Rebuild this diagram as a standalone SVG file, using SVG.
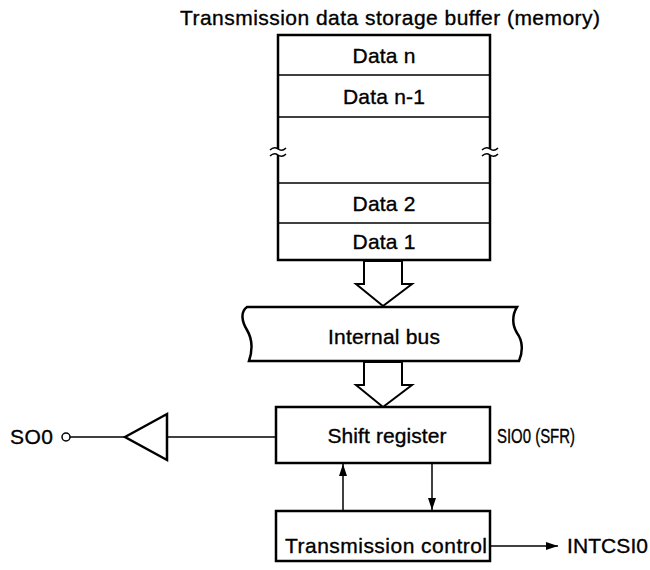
<svg xmlns="http://www.w3.org/2000/svg" width="650" height="570" viewBox="0 0 650 570">
  <style>
    text { font-family: "Liberation Sans", Arial, sans-serif; font-size: 21px; fill: #000; stroke: #000; stroke-width: 0.35; }
    .c { text-anchor: middle; }
    .box { fill: #fff; stroke: #000; stroke-width: 2.5; }
    .row { stroke: #000; stroke-width: 1.5; fill: none; }
    .wire { stroke: #000; stroke-width: 1.5; fill: none; }
    .hollow { fill: #fff; stroke: #000; stroke-width: 2; stroke-linejoin: miter; }
  </style>
  <defs>
    <marker id="head" viewBox="0 0 12 8" refX="12" refY="4" markerWidth="12" markerHeight="8" markerUnits="userSpaceOnUse" orient="auto">
      <path d="M0,0 L12,4 L0,8 Z" fill="#000"/>
    </marker>
  </defs>

  <text x="390" y="25" class="c" textLength="420" lengthAdjust="spacing">Transmission data storage buffer (memory)</text>

  <!-- buffer memory with broken middle section -->
  <g id="memory">
    <rect x="278" y="35" width="212" height="225" fill="#fff" stroke="none"/>
    <path class="box" fill="none" d="M278,149 V35 H490 V149"/>
    <path class="box" fill="none" d="M278,155 V260 H490 V155"/>
    <line class="row" x1="278" y1="75" x2="490" y2="75"/>
    <line class="row" x1="278" y1="117" x2="490" y2="117"/>
    <line class="row" x1="278" y1="183" x2="490" y2="183"/>
    <line class="row" x1="278" y1="223" x2="490" y2="223"/>
    <!-- break marks -->
    <path class="wire" d="M270,150 q4,-4 8,-1 t8,-1 M270,156 q4,-4 8,-1 t8,-1"/>
    <path class="wire" d="M482,150 q4,-4 8,-1 t8,-1 M482,156 q4,-4 8,-1 t8,-1"/>
    <text x="384" y="63" class="c" textLength="63" lengthAdjust="spacing">Data n</text>
    <text x="384" y="104" class="c" textLength="82" lengthAdjust="spacing">Data n-1</text>
    <text x="384" y="211" class="c" textLength="63" lengthAdjust="spacing">Data 2</text>
    <text x="384" y="249" class="c" textLength="63" lengthAdjust="spacing">Data 1</text>
  </g>

  <g id="internal-bus">
    <path class="box" stroke-width="2" d="M247,307 H517 C512,315 512,325 517,333 C523,341 523,352 519,361 H249 C252,352 253,340 247,330 C242,322 240,312 247,307 Z"/>
    <text x="384" y="344" class="c" textLength="112" lengthAdjust="spacing">Internal bus</text>
  </g>

  <g id="shift-register">
    <rect class="box" x="276" y="407" width="214" height="56"/>
    <text x="387" y="443" class="c" textLength="119" lengthAdjust="spacing">Shift register</text>
    <text x="497" y="443" textLength="78" lengthAdjust="spacingAndGlyphs">SIO0 (SFR)</text>
  </g>

  <g id="transmission-control">
    <rect class="box" x="276" y="511" width="214" height="50"/>
    <text x="285" y="553" textLength="202" lengthAdjust="spacing">Transmission control</text>
  </g>

  <g id="buffer-amp">
    <polygon class="box" stroke-width="3" points="125,437 167,414 167,460"/>
  </g>

  <g id="so0-pin">
    <text x="10" y="444" textLength="43" lengthAdjust="spacing">SO0</text>
    <circle cx="66" cy="437" r="4" fill="#fff" stroke="#000" stroke-width="1.5"/>
  </g>

  <g id="intcsi0-label">
    <text x="567" y="553" textLength="81" lengthAdjust="spacing">INTCSI0</text>
  </g>

  <g id="connectors">
    <!-- wide data-path arrows -->
    <polygon class="hollow" points="364,261 402,261 402,284 412,284 383,306 356,284 364,284"/>
    <polygon class="hollow" points="364,362 402,362 402,385 412,385 383,407 356,385 364,385"/>
    <!-- serial output -->
    <line class="wire" x1="276" y1="437" x2="167" y2="437"/>
    <line class="wire" x1="125" y1="437" x2="70" y2="437"/>
    <!-- control handshake -->
    <line class="wire" x1="343" y1="511" x2="343" y2="464" marker-end="url(#head)"/>
    <line class="wire" x1="432" y1="463" x2="432" y2="510" marker-end="url(#head)"/>
    <!-- interrupt request -->
    <line class="wire" x1="490" y1="546" x2="558" y2="546" marker-end="url(#head)"/>
  </g>
</svg>
